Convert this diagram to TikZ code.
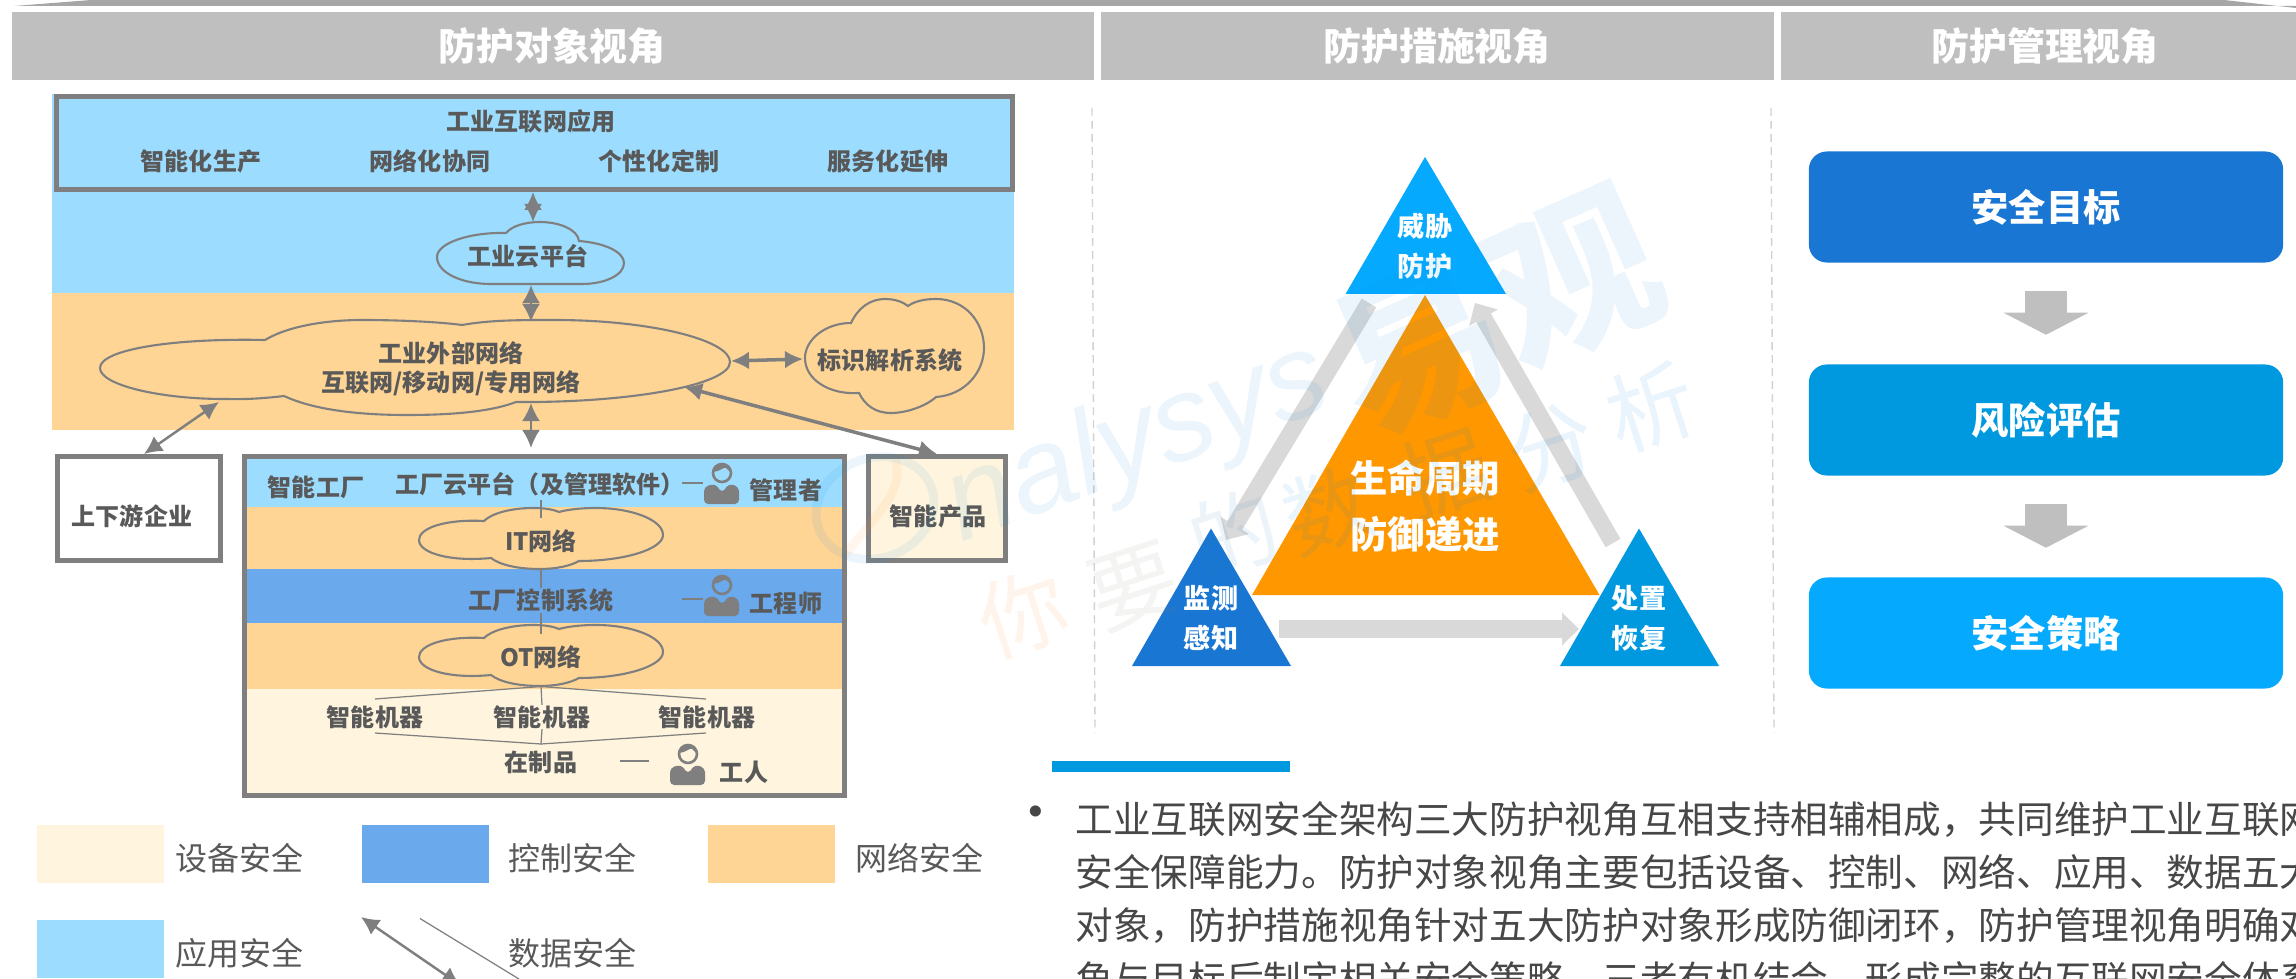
\documentclass[tikz,border=0pt]{standalone}
\usepackage{fontspec}
\usepackage{xcolor}
\usetikzlibrary{arrows.meta}
\setmainfont{Noto Sans CJK SC}
\newfontfamily\wmfont{Liberation Sans}
\definecolor{appblue}{HTML}{9BDCFF}
\definecolor{netorange}{HTML}{FFD596}
\definecolor{ctrlblue}{HTML}{69A9EC}
\definecolor{devcream}{HTML}{FFF5DE}
\definecolor{linegray}{HTML}{7F7F7F}
\definecolor{textgray}{HTML}{595959}
\definecolor{barblue}{HTML}{1976D2}
\definecolor{midblue}{HTML}{0098DF}
\definecolor{skyblue}{HTML}{05AAFF}
\definecolor{wmblue}{HTML}{0A84DC}
\definecolor{wmorange}{HTML}{FF8A20}
\newcommand{\pxfont}[1]{\fontsize{#1}{#1}\selectfont}
\newcommand{\personicon}[2]{%
\begin{scope}[shift={(#1,#2)}]
\draw[linegray, line width=0.75pt] (0,0) circle (9);
\fill[linegray] (-9,-1) .. controls (-3,-1) and (3,-7) .. (4,-5) .. controls (5,-3) and (8,-2) .. (9,0) .. controls (10,-12) and (-10,-12) .. (-9,-1) -- cycle;
\fill[linegray, rounded corners=1.2pt] (-18,31) -- (-18,14) -- (-7,10.5) -- (0,20) -- (7,10.5) -- (17,14) -- (17,31) -- cycle;
\end{scope}}
\newcommand{\factorycloud}[1]{%
\begin{scope}[shift={(0,#1)}]
\draw[cloudline] (419,540) .. controls (419,528) and (445,519) .. (484,521) .. controls (492,513) and (512,508) .. (533,508) .. controls (543,508) and (552,509) .. (559,512) .. controls (570,509) and (583,508) .. (596,508) .. controls (632,508) and (663,520) .. (663,535) .. controls (663,549) and (625,561) .. (579,561) .. controls (570,566) and (556,569) .. (540,569) .. controls (518,569) and (500,565) .. (491,558) .. controls (450,562) and (419,553) .. (419,540) -- cycle;
\end{scope}}

\begin{document}
\begin{tikzpicture}[x=0.01cm, y=-0.01cm,
  every node/.style={font=\pxfont{6.83}},
  darktext/.style={text=textgray, font=\pxfont{6.83}\bfseries, inner sep=0pt, align=center},
  legendtext/.style={text=textgray, font=\pxfont{9.1}, inner sep=0pt, anchor=west},
  headtext/.style={text=white, font=\pxfont{10.8}\bfseries, inner sep=0pt},
  whitetext/.style={text=white, font=\fontsize{7.7}{11.4}\selectfont\bfseries, inner sep=0pt, align=center},
  bigtext/.style={text=white, font=\fontsize{10.6}{15.8}\selectfont\bfseries, inner sep=0pt, align=center},
  paratext/.style={text=textgray!80!black, font=\pxfont{10.7}, inner sep=0pt, anchor=west},
  framebox/.style={draw=linegray, line width=1.4pt, inner sep=0pt},
  goalbox/.style={rounded corners=0.18cm, minimum width=4.74cm, minimum height=1.11cm, text=white, font=\pxfont{10.6}\bfseries},
  cloudline/.style={draw=linegray, line width=0.6pt},
  twoway/.style={{Latex[length=0.18cm,width=0.18cm]}-{Latex[length=0.18cm,width=0.18cm]}, linegray, line width=0.7pt},
  thinline/.style={linegray, line width=0.35pt},
  loopgray/.style={-{Triangle[length=0.17cm,width=0.32cm]}, draw=black!15, line width=0.17cm},
  downgray/.style={-{Triangle[length=0.22cm,width=0.84cm]}, draw=black!25, line width=0.42cm},
  sepline/.style={draw=black!18, line width=0.4pt, dash pattern=on 2.2pt off 1.5pt},
  wmark/.style={text=wmblue, opacity=0.08, inner sep=0pt}]
\useasboundingbox (0,0) rectangle (2296,979);

% Top bar and headers
\fill[black!35] (14,6) -- (91,0) -- (2224,0) -- (2296,8) -- (2296,6) -- cycle;
\fill[black!25] (12,12) rectangle (1094,80);
\fill[black!25] (1101,12) rectangle (1774,80);
\fill[black!25] (1781,12) rectangle (2296,80);
\node[headtext] (head1) at (552,46) {防护对象视角};
\node[headtext] (head2) at (1437,46) {防护措施视角};
\node[headtext] (head3) at (2045,46) {防护管理视角};

% Protected objects view, outer bands
\fill[appblue] (52,94) rectangle (1014,293);
\fill[netorange] (52,293) rectangle (1014,430);
\node[framebox, fill=appblue, minimum width=9.56cm, minimum height=0.93cm] (appbox) at (534.5,143) {};
\node[darktext] (apptitle) at (531,121) {工业互联网应用};
\node[darktext] (app1) at (201,161) {智能化生产};
\node[darktext] (app2) at (430,161) {网络化协同};
\node[darktext] (app3) at (659,161) {个性化定制};
\node[darktext] (app4) at (888,161) {服务化延伸};

% Clouds
\draw[cloudline] (437,257) .. controls (437,243) and (470,232) .. (506,233) .. controls (512,226) and (525,222) .. (540,222) .. controls (560,222) and (578,230) .. (579,241) .. controls (605,243) and (624,252) .. (624,263) .. controls (624,275) and (605,284) .. (582,284) -- (491,284) .. controls (460,284) and (437,272) .. (437,257) -- cycle;
\node[darktext] (cloud1) at (528,256) {工业云平台};
\draw[cloudline] (100,368) .. controls (100,350) and (170,338) .. (265,340) .. controls (290,325) and (330,320) .. (362,320) .. controls (400,320) and (440,322) .. (462,325) .. controls (490,320) and (520,320) .. (555,320) .. controls (650,320) and (730,340) .. (730,362) .. controls (730,385) and (630,403) .. (516,402) .. controls (490,412) and (450,415) .. (407,415) .. controls (350,415) and (310,408) .. (284,396) .. controls (250,400) and (235,399) .. (224,399) .. controls (160,399) and (100,385) .. (100,368) -- cycle;
\node[darktext, font=\fontsize{6.83}{8.25}\selectfont\bfseries] (cloud2) at (451,369) {工业外部网络\\互联网/移动网/专用网络};
\draw[cloudline] (805,358) .. controls (805,340) and (825,323) .. (851,323) .. controls (858,308) and (870,299) .. (885,299) .. controls (895,299) and (903,302) .. (908,306) .. controls (915,301) and (925,299) .. (936,299) .. controls (965,299) and (984,322) .. (984,348) .. controls (984,372) and (965,395) .. (936,397) .. controls (925,407) and (905,413) .. (891,413) .. controls (875,413) and (865,405) .. (859,393) .. controls (830,395) and (805,380) .. (805,358) -- cycle;
\node[darktext] (cloud3) at (890,360) {标识解析系统};

% Side boxes
\node[framebox, fill=white, minimum width=1.63cm, minimum height=1.04cm] (upbox) at (139,508.5) {};
\node[darktext] (uptext) at (132,516) {上下游企业};
\node[framebox, fill=devcream, minimum width=1.37cm, minimum height=1.04cm] (prodbox) at (937,508.5) {};
\node[darktext] (prodtext) at (938,516) {智能产品};

% Factory bands
\fill[appblue] (244,456) rectangle (845,507);
\fill[netorange] (244,507) rectangle (845,569);
\fill[ctrlblue] (244,569) rectangle (845,623);
\fill[netorange] (244,623) rectangle (845,688.5);
\fill[devcream] (244,688.5) rectangle (845,795);
\node[framebox, minimum width=6cm, minimum height=3.385cm] (factory) at (544.5,625.7) {};

\coordinate (cloud1n) at (533,222);
\coordinate (cloud1s) at (531,285);
\coordinate (cloud2n) at (531,322);
\coordinate (cloud2e) at (731,361);
\coordinate (cloud3w) at (803,359);
\coordinate (cloud2sw) at (219,402);
\coordinate (cloud2s) at (531,403);
\coordinate (cloud2se) at (684,387);
\coordinate (factorytop) at (531,448);
\draw[twoway] (appbox.south -| cloud1n) -- (cloud1n);
\draw[twoway] (cloud1s) -- (cloud2n);
\draw[twoway, line width=1pt] (cloud2e) -- (cloud3w);
\draw[twoway] (cloud2sw) -- ([xshift=0.05cm]upbox.north);
\draw[twoway] (cloud2s) -- (factorytop);
\draw[twoway, line width=1pt] (cloud2se) -- (prodbox.north);

% Factory content
\node[darktext] (smart) at (316,487) {智能工厂};
\node[darktext] (fcloud) at (540,484) {工厂云平台（及管理软件）};
\node[darktext] (mgr) at (786,490.5) {管理者};
\node[darktext] (fctrl) at (541,600.5) {工厂控制系统};
\node[darktext] (eng) at (786,603) {工程师};
\factorycloud{0}
\node[darktext] (itnet) at (541,541) {IT网络};
\factorycloud{117}
\node[darktext] (otnet) at (541,657) {OT网络};
\node[darktext] (mach1) at (375,717) {智能机器};
\node[darktext] (mach2) at (542,717) {智能机器};
\node[darktext] (mach3) at (707,717) {智能机器};
\node[darktext] (wip) at (541,762) {在制品};
\node[darktext] (worker) at (744,772) {工人};
\personicon{722}{473}
\personicon{722}{585}
\personicon{688}{754}
\coordinate (hub1) at (541,686.5);
\coordinate (hub2) at (541,744);
\draw[thinline] (541,500) -- (541,518);
\draw[thinline] (541,569) -- (fctrl.north);
\draw[thinline] (fctrl.south) -- (541,634);
\draw[thinline] (hub1) -- (375,699);
\draw[thinline] (hub1) -- (mach2.north);
\draw[thinline] (hub1) -- (706,699);
\draw[thinline] (375,733) -- (hub2);
\draw[thinline] (mach2.south) -- (hub2);
\draw[thinline] (706,733) -- (hub2);
\draw[thinline] (682,483) -- (703,483);
\draw[thinline] (682,599) -- (703,599);
\draw[thinline] (620,761) -- (649,761);

% Legend
\fill[devcream] (37,825) rectangle (163.5,883);
\node[legendtext] (leg1) at (175,858) {设备安全};
\fill[ctrlblue] (362,825) rectangle (489,883);
\node[legendtext] (leg2) at (508,858) {控制安全};
\fill[netorange] (708,825) rectangle (835,883);
\node[legendtext] (leg3) at (855,858) {网络安全};
\fill[appblue] (37,920) rectangle (163.5,978);
\node[legendtext] (leg4) at (175,953) {应用安全};
\node[legendtext] (leg5) at (508,953) {数据安全};
\coordinate (dataa) at (361,917);
\coordinate (datab) at (460,985);
\coordinate (datac) at (420,918.5);
\coordinate (datad) at (519,979);
\draw[twoway] (dataa) -- (datab);
\draw[thinline] (datac) -- (datad);

% Measures view
\draw[sepline] (1092,108) -- (1095,733);
\draw[sepline] (1771,108) -- (1774,733);
\coordinate (topl) at (1369,303);
\coordinate (leftt) at (1226,540);
\coordinate (rightt) at (1613,543);
\coordinate (topr) at (1475,303);
\coordinate (leftr) at (1279,629);
\coordinate (rightl) at (1579,629);
\draw[loopgray] (topl) -- (leftt);
\draw[loopgray] (rightt) -- (topr);
\draw[loopgray] (leftr) -- (rightl);
\fill[skyblue] (1425,157) -- (1506,294) -- (1345.5,294) -- cycle;
\fill[barblue] (1211,528.5) -- (1291,666) -- (1132,666) -- cycle;
\fill[midblue] (1639,528.5) -- (1719,666) -- (1560,666) -- cycle;
\fill[orange!75!yellow!95!red] (1425,295) -- (1599.5,595) -- (1252,595) -- cycle;
\node[whitetext] (threat) at (1425,246) {威胁\\防护};
\node[whitetext] (sense) at (1211,618) {监测\\感知};
\node[whitetext] (recover) at (1639,618) {处置\\恢复};
\node[bigtext] (life) at (1425,506) {生命周期\\防御递进};

% Management view
\node[goalbox, fill=barblue] (goal1) at (2046,207) {安全目标};
\node[goalbox, fill=midblue] (goal2) at (2046,420) {风险评估};
\node[goalbox, fill=skyblue] (goal3) at (2046,633) {安全策略};
\draw[downgray, shorten <=0.28cm, shorten >=0.29cm] (goal1.south) -- (goal2.north);
\draw[downgray, shorten <=0.28cm, shorten >=0.29cm] (goal2.south) -- (goal3.north);

% Paragraph
\fill[midblue] (1052,761) rectangle (1290,772);
\node[text=textgray!80!black, font=\pxfont{15}, inner sep=0pt] (dot) at (1036,819) {•};
\node[paratext] (para1) at (1075,819) {工业互联网安全架构三大防护视角互相支持相辅相成，共同维护工业互联网};
\node[paratext] (para2) at (1075,872) {安全保障能力。防护对象视角主要包括设备、控制、网络、应用、数据五大};
\node[paratext] (para3) at (1075,926) {对象，防护措施视角针对五大防护对象形成防御闭环，防护管理视角明确对};
\node[paratext] (para4) at (1075,979) {角与目标后制定相关安全策略，三者有机结合，形成完整的互联网安全体系};

% Watermark
\draw[draw=wmblue, opacity=0.08, line width=2.5pt, rotate around={20:(875,508)}] (875,508) ellipse (60 and 50);
\draw[draw=wmorange, opacity=0.08, line width=2.5pt] (845,555) .. controls (880,510) and (905,490) .. (895,460);
\node[wmark, rotate=20, font=\fontsize{34}{34}\selectfont\wmfont\itshape] (wm1) at (1138,445) {nalysys};
\node[wmark, rotate=24, font=\fontsize{48}{48}\selectfont\bfseries] (wm2) at (1496,314) {易观};
\foreach \ch/\x/\y/\mix [count=\i] in {你/1023/613/100, 要/1134/587/50, 的/1234/533/15, 数/1328/510/0, 据/1445/473/0, 分/1551/447/0, 析/1651/407/0}
  \node[inner sep=0pt, rotate=18, opacity=0.09, text=wmorange!\mix!wmblue, font=\pxfont{25}] (wmsub\i) at (\x,\y) {\ch};
\end{tikzpicture}
\end{document}
